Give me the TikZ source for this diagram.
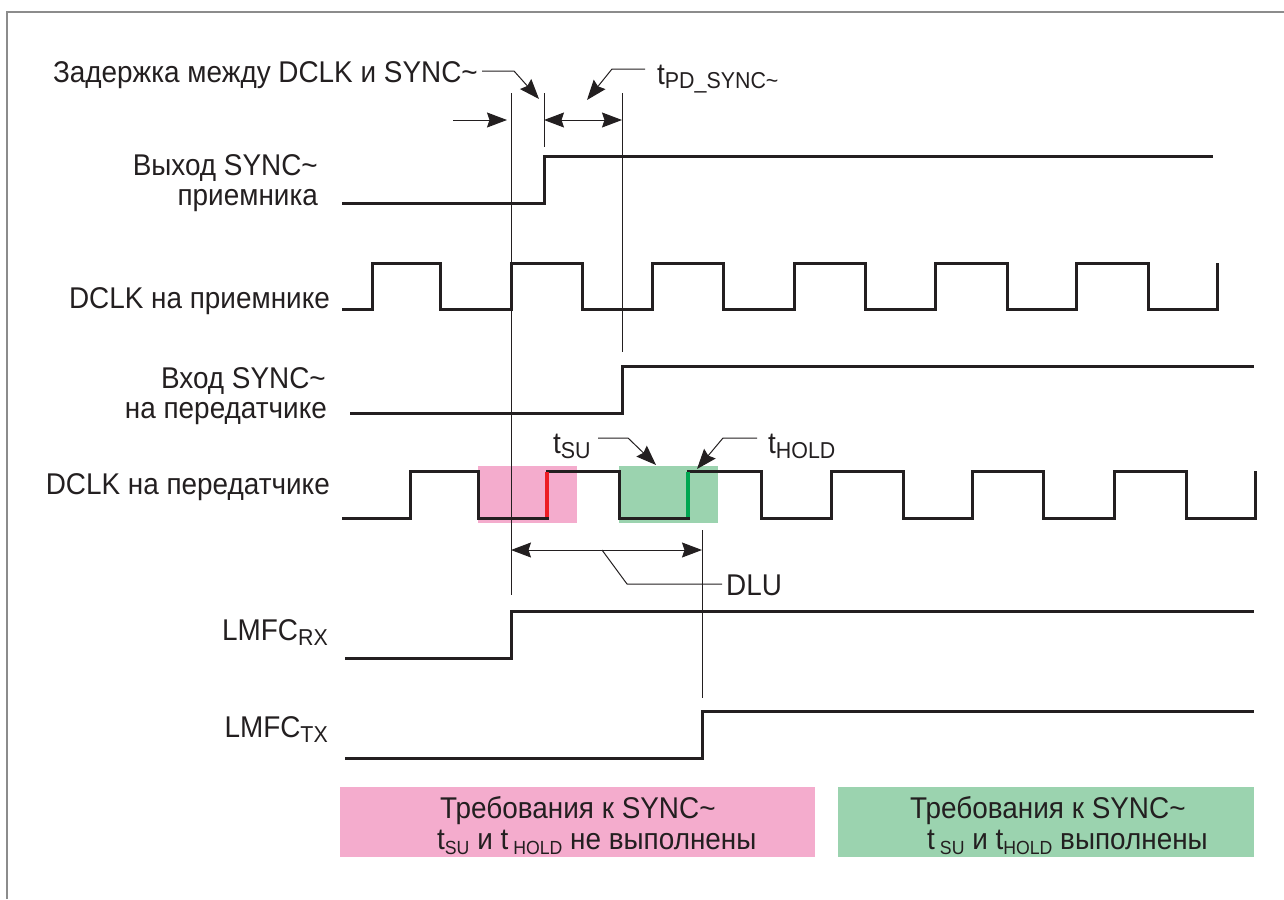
\documentclass[tikz,border=0pt]{standalone}
\usepackage{fontspec}
\setmainfont{Liberation Sans}[FakeStretch=0.93]
\usetikzlibrary{arrows.meta}
\definecolor{pinkbox}{RGB}{244,172,205}
\definecolor{greenbox}{RGB}{155,211,175}
\definecolor{rededge}{RGB}{237,28,36}
\definecolor{greenedge}{RGB}{0,166,81}
\definecolor{ink}{RGB}{35,31,32}
\definecolor{framegray}{RGB}{140,140,140}
\newcommand\subtxt[1]{\raisebox{-5pt}{\fontsize{23}{23}\selectfont #1}}
\newcommand\subsm[1]{\raisebox{-5pt}{\fontsize{19}{19}\selectfont #1}}
\newcommand\tld{\textasciitilde}
\begin{document}
\begin{tikzpicture}[x=1pt,y=-1pt,
  lbl/.style={font=\fontsize{30}{32}\selectfont, inner sep=0pt, text=ink},
  sig/.style={draw=ink, line width=3pt, line join=miter},
  thinln/.style={draw=ink, line width=1pt},
  tip/.tip={Stealth[length=20pt,width=15pt,inset=2.5pt]},
  arr/.style={thinln, -tip},
  darr/.style={thinln, tip-tip},
]
\useasboundingbox (0,0) rectangle (1284,899);
% frame
\draw[framegray, line width=1.5pt] (7,899) -- (7,12) -- (1284,12);

% setup/hold windows
\fill[pinkbox] (478,466) rectangle (577,523);
\fill[greenbox] (619,466) rectangle (718,523);
% bottom boxes
\fill[pinkbox] (340,787) rectangle (815,857);
\fill[greenbox] (838,787) rectangle (1254,857);

% signals
\draw[sig] (342,203) -- (544,203) -- (544,156) -- (1213,156);
\draw[sig] (342,309) -- (372,309) -- (372,263) -- (440,263) -- (440,309) -- (511,309) -- (511,263)
  -- (582,263) -- (582,309) -- (652,309) -- (652,263) -- (723,263) -- (723,309) -- (794,309)
  -- (794,263) -- (865,263) -- (865,309) -- (935,309) -- (935,263) -- (1007,263) -- (1007,309)
  -- (1076,309) -- (1076,263) -- (1148,263) -- (1148,309) -- (1217,309) -- (1217,263);
\draw[sig] (350,413) -- (622,413) -- (622,366) -- (1254,366);
\draw[sig] (342,518) -- (410,518) -- (410,471) -- (478,471) -- (478,518) -- (547,518) -- (547,471)
  -- (619,471) -- (619,518) -- (688,518) -- (688,471) -- (761,471) -- (761,518) -- (831,518)
  -- (831,471) -- (903,471) -- (903,518) -- (972,518) -- (972,471) -- (1043,471) -- (1043,518)
  -- (1114,518) -- (1114,471) -- (1186,471) -- (1186,518) -- (1255,518) -- (1255,471);
\draw[rededge, line width=3.5pt] (547,517) -- (547,472);
\draw[greenedge, line width=3.5pt] (688,517) -- (688,472);
\draw[sig] (345,658) -- (511,658) -- (511,611) -- (1254,611);
\draw[sig] (345,758) -- (702,758) -- (702,711) -- (1254,711);

% reference lines
\coordinate (rxA) at (511,93);
\coordinate (rxB) at (511,595);
\coordinate (soA) at (544,93);
\coordinate (soB) at (544,147);
\coordinate (pdA) at (622,93);
\coordinate (pdB) at (622,352);
\coordinate (txA) at (702,530);
\coordinate (txB) at (702,698);
\draw[thinln] (rxA) -- (rxB);
\draw[thinln] (soA) -- (soB);
\draw[thinln] (pdA) -- (pdB);
\draw[thinln] (txA) -- (txB);

% arrows at top
\coordinate (inL) at (453,120);
\coordinate (inR) at (507,120);
\draw[arr] (inL) -- (inR);
\coordinate (pdL) at (544,120);
\coordinate (pdR) at (622,120);
\draw[darr] (pdL) -- (pdR);

% labels
\node[lbl, anchor=base east] (dly) at (478,82) {Задержка между DCLK и SYNC\tld};
\coordinate (dlyS) at (482,71);
\coordinate (dlyK) at (514,71);
\coordinate (dlyT) at (539,99);
\draw[arr] (dlyS) -- (dlyK) -- (dlyT);

\node[lbl, anchor=base west] (tpd) at (657,84) {t\subtxt{PD\_SYNC\tld}};
\coordinate (tpdS) at (645,69);
\coordinate (tpdK) at (612,69);
\coordinate (tpdT) at (587,100);
\draw[arr] (tpdS) -- (tpdK) -- (tpdT);

\node[lbl, anchor=base east] (l1a) at (318,175) {Выход SYNC\tld};
\node[lbl, anchor=base east] (l1b) at (318,205) {приемника};
\node[lbl, anchor=base east] (l2) at (330,308) {DCLK на приемнике};
\node[lbl, anchor=base east] (l3a) at (326,388) {Вход SYNC\tld};
\node[lbl, anchor=base east] (l3b) at (327,418) {на передатчике};
\node[lbl, anchor=base east] (l4) at (330,494) {DCLK на передатчике};
\node[lbl, anchor=base east] (l5) at (328,640) {LMFC\subtxt{RX}};
\node[lbl, anchor=base east] (l6) at (328,737) {LMFC\subtxt{TX}};

% tSU / tHOLD
\node[lbl, anchor=base west] (tsu) at (553,453) {t\subtxt{SU}};
\coordinate (tsuS) at (598,438);
\coordinate (tsuK) at (628,438);
\coordinate (tsuT) at (656,465);
\draw[arr] (tsuS) -- (tsuK) -- (tsuT);
\node[lbl, anchor=base west] (thold) at (768,453) {t\subtxt{HOLD}};
\coordinate (thS) at (757,438);
\coordinate (thK) at (723,438);
\coordinate (thT) at (697,469);
\draw[arr] (thS) -- (thK) -- (thT);

% DLU
\coordinate (dluL) at (511,550);
\coordinate (dluR) at (702,550);
\draw[darr] (dluL) -- (dluR);
\node[lbl, anchor=base west] (dlu) at (726,595) {DLU};
\coordinate (dluM) at (602,550);
\coordinate (dluK) at (627,584);
\coordinate (dluE) at (722,584);
\draw[thinln] (dluM) -- (dluK) -- (dluE);

% bottom texts
\node[lbl, anchor=base west] (b1a) at (440,818) {Требования к SYNC\tld};
\node[lbl, anchor=base west] (b1b) at (437,849) {t\subsm{SU} и t\,\subsm{HOLD} не выполнены};
\node[lbl, anchor=base west] (b2a) at (910,818) {Требования к SYNC\tld};
\node[lbl, anchor=base west] (b2b) at (927,849) {t\,\subsm{SU} и t\subsm{HOLD} выполнены};
\end{tikzpicture}
\end{document}
